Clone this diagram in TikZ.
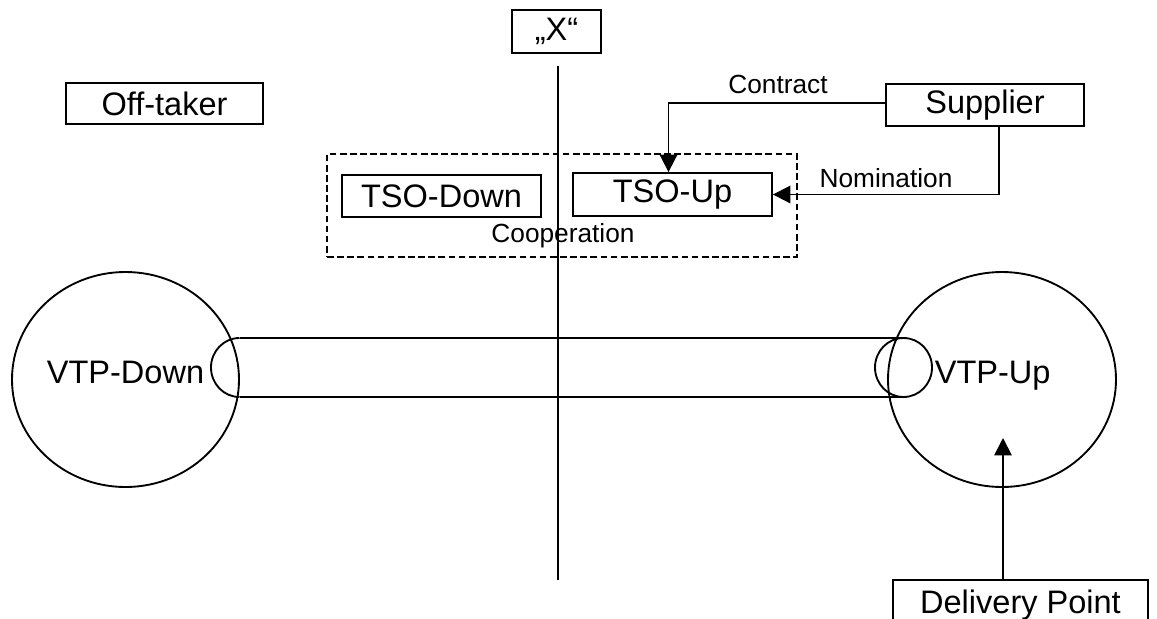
\documentclass[tikz,border=0pt]{standalone}
\usepackage{fontspec}
\setmainfont{Liberation Sans}
\usetikzlibrary{shapes.geometric,arrows.meta}
\begin{document}
\begin{tikzpicture}[x=0.75pt,y=-0.75pt,
  every node/.style={inner sep=0pt},
  box/.style={draw,line width=1.4pt,font=\fontsize{24.4}{28}\selectfont},
  lbl/.style={font=\fontsize{19.7}{23}\selectfont},
  arr/.style={line width=1.4pt,-{Triangle[length=13pt,width=13pt]}},
  ln/.style={line width=1.4pt},
  vtp/.style={draw,ellipse,line width=1.4pt,font=\fontsize{24.4}{28}\selectfont}]
\useasboundingbox (0,0) rectangle (1157,618);
\fill[white] (0,0) rectangle (1157,618);
% vertical border line
\coordinate (lt) at (558,66);
\coordinate (lb) at (558,580);
\draw[ln] (lt) -- (lb);
\node[box,minimum width=89*0.75pt,minimum height=43*0.75pt] (X) at (556.5,31.5) {„X“};
\node[box,minimum width=197*0.75pt,minimum height=41*0.75pt] (off) at (164.5,103.5) {Off-taker};
\node[box,minimum width=198*0.75pt,minimum height=42*0.75pt] (sup) at (985,105) {Supplier};
% cooperation frame
\node[draw,dash pattern=on 5pt off 2.6pt,line width=1.4pt,minimum width=470*0.75pt,minimum height=103*0.75pt] (coop) at (562,205.5) {};
\node[box,fill=white,minimum width=199*0.75pt,minimum height=42*0.75pt] (tsod) at (441.5,196) {TSO-Down};
\node[box,fill=white,minimum width=199*0.75pt,minimum height=43*0.75pt] (tsou) at (672.5,194.5) {TSO-Up};
\node[lbl] (cooptxt) at (563,236) {Cooperation};
% arrows
\draw[arr] (sup.west |- 0,103) -| ([xshift=-3pt]tsou.north);
\node[lbl] (contract) at (778,84) {Contract};
\draw[arr] ([xshift=10.5pt]sup.south) |- (tsou.east);
\node[lbl] (nom) at (886,178) {Nomination};
% VTPs
\node[vtp,minimum width=227*0.75pt,minimum height=215*0.75pt] (vtpd) at (125.5,379.5) {\raisebox{11pt}{VTP-Down}};
\node[vtp,minimum width=228*0.75pt,minimum height=215*0.75pt] (vtpu) at (1002,379.5) {\hspace*{-14pt}\raisebox{11pt}{VTP-Up}};
% pipeline cylinder
\coordinate (cl) at (239.5,367.5);
\coordinate (cr) at (903.5,367.5);
\draw[ln] (239.5,338) -- (903.5,338);
\draw[ln] (239.5,397) -- (903.5,397);
\draw[ln] (239.5,338) arc[start angle=90,end angle=270,x radius=28.5*0.75pt,y radius=29.5*0.75pt];
\draw[ln] (cr) ellipse[x radius=28.5*0.75pt,y radius=29.5*0.75pt];
% delivery point
\node[box,anchor=north,minimum width=255*0.75pt,text height=17.5pt,text depth=20pt,inner ysep=7.5pt] (dp) at (1020.5,579) {Delivery Point};
\coordinate (dptip) at (1003,438);
\draw[arr] (dp.north -| dptip) -- (dptip);
\end{tikzpicture}
\end{document}
